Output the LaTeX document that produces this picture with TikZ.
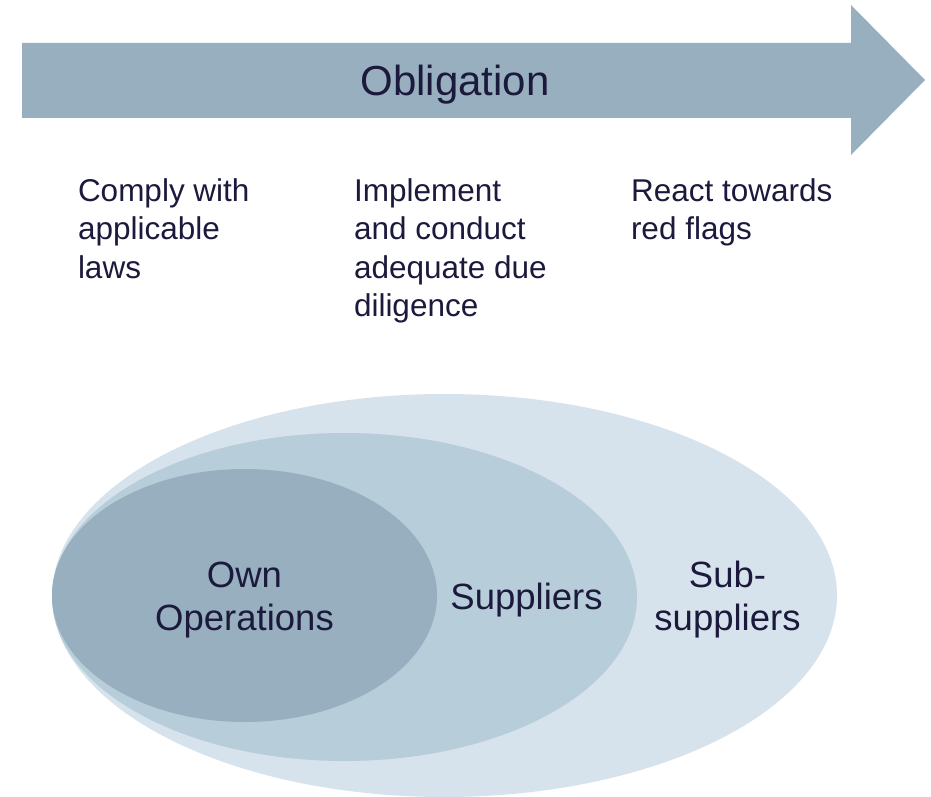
\documentclass[tikz,border=0pt]{standalone}
\usepackage{fontspec}
\setmainfont{Liberation Sans}
\begin{document}
\definecolor{arrowblue}{HTML}{98AFBF}
\definecolor{innerblue}{HTML}{98AFBF}
\definecolor{midblue}{HTML}{B7CDDA}
\definecolor{outerblue}{HTML}{D7E3EC}
\definecolor{inknavy}{HTML}{1B1A3C}
\begin{tikzpicture}[x=1pt,y=-1pt,
  every node/.style={inner sep=0pt,outer sep=0pt,text=inknavy},
  steptext/.style={anchor=base west,align=left,font=\fontsize{31.5}{38.5}\selectfont},
  ringtext/.style={anchor=base,align=center,font=\fontsize{36.5}{43}\selectfont}]
\useasboundingbox (0,0) rectangle (931,797);

% big arrow
\fill[arrowblue] (22,43) -- (851,43) -- (851,5) -- (925,80) -- (851,155)
  -- (851,118) -- (22,118) -- cycle;
\node[anchor=base,font=\fontsize{42}{48}\selectfont] (oblig) at (455,96) {Obligation};

% obligation steps (anchored at the baseline of the last line)
\node[steptext] (comply) at (78,278) {Comply with\\applicable\\laws};
\node[steptext] (implement) at (354,316.5) {Implement\\and conduct\\adequate due\\diligence};
\node[steptext] (react) at (631,239.5) {React towards\\red flags};

% nested scopes
\fill[outerblue] (444.5,595.5) ellipse [x radius=392.5, y radius=201.5];
\fill[midblue] (344.5,597) ellipse [x radius=292.5, y radius=164];
\fill[innerblue] (244.5,595.5) ellipse [x radius=192.5, y radius=126.5];

\node[ringtext] (own) at (244.5,630) {Own\\Operations};
\node[ringtext] (suppliers) at (526.5,609) {Suppliers};
\node[ringtext] (subsuppliers) at (727.5,630) {Sub-\\suppliers};
\end{tikzpicture}
\end{document}
